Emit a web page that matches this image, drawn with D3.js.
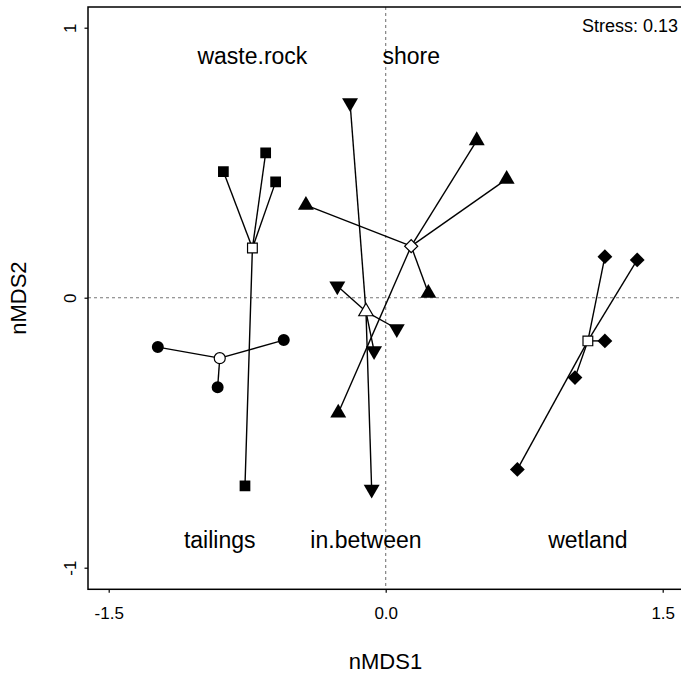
<!DOCTYPE html>
<html><head><meta charset="utf-8">
<script src="https://cdn.jsdelivr.net/npm/d3@7"></script>
<style>body{margin:0;background:#fff}svg{display:block}</style>
</head><body>
<script>
// ---- data ----
const groups = ["waste.rock", "tailings", "shore", "in.between", "wetland"];
const siteGroup = [
  "waste.rock","waste.rock","waste.rock","waste.rock",
  "tailings","tailings","tailings",
  "shore","shore","shore","shore","shore",
  "in.between","in.between","in.between","in.between","in.between",
  "wetland","wetland","wetland","wetland","wetland"
];
const nmds1 = [
  -0.879, -0.650, -0.596, -0.762,
  -1.234, -0.552, -0.910,
   0.493,  0.655,  0.231, -0.432, -0.257,
  -0.193, -0.262,  0.060, -0.063, -0.076,
   1.187,  1.362,  1.187,  1.025,  0.713
];
const nmds2 = [
   0.467,  0.536,  0.429, -0.697,
  -0.183, -0.157, -0.332,
   0.582,  0.439,  0.017,  0.343, -0.427,
   0.722,  0.043, -0.115, -0.197, -0.710,
   0.152,  0.140, -0.160, -0.296, -0.636
];
const topGroups = ["waste.rock", "shore"];
const xTicks = [-1.5, 0, 1.5];
const xTickLabels = ["-1.5", "0.0", "1.5"];
const yTicks = [-1, 0, 1];
const yTickLabels = ["-1", "0", "1"];
const stressLabel = "Stress: 0.13";

// ---- layout ----
const W = 681, H = 673;
const FONT = "'Liberation Sans', Arial, Helvetica, sans-serif";
const box = {left: 88, top: 7, right: 684, bottom: 589.3};
const x = d3.scaleLinear().domain([-1.5, 1.5]).range([108.7, 662.7]);
const y = d3.scaleLinear().domain([-1, 1]).range([567.7, 27.7]);

const svg = d3.select("body").append("svg").attr("width", W).attr("height", H);

// reference lines
const clip = svg.append("clipPath").attr("id", "c").append("rect")
  .attr("x", box.left).attr("y", box.top)
  .attr("width", box.right - box.left).attr("height", box.bottom - box.top);
const plot = svg.append("g").attr("clip-path", "url(#c)");
plot.append("line").attr("x1", x(0)).attr("x2", x(0)).attr("y1", box.top).attr("y2", box.bottom)
  .attr("stroke", "#777").attr("stroke-width", 1.1).attr("stroke-dasharray", "3,3");
plot.append("line").attr("y1", y(0)).attr("y2", y(0)).attr("x1", box.left).attr("x2", box.right)
  .attr("stroke", "#777").attr("stroke-width", 1.1).attr("stroke-dasharray", "3,3");

// sites
const sites = siteGroup.map((g, i) => ({g, x: nmds1[i], y: nmds2[i]}));
const cent = groups.map(g => {
  const s = sites.filter(d => d.g === g);
  return {g, x: d3.mean(s, d => d.x), y: d3.mean(s, d => d.y)};
});
const centOf = g => cent.find(c => c.g === g);

// spider segments
plot.append("g").selectAll("line").data(sites).join("line")
  .attr("x1", d => x(centOf(d.g).x)).attr("y1", d => y(centOf(d.g).y))
  .attr("x2", d => x(d.x)).attr("y2", d => y(d.y))
  .attr("stroke", "#000").attr("stroke-width", 1.4);

// symbols
const ptSym = {
  "waste.rock": {t: d3.symbolSquare, s: 115, r: 0},
  "tailings":   {t: d3.symbolCircle, s: 113, r: 0},
  "shore":      {t: d3.symbolTriangle, s: 110, r: 0},
  "in.between": {t: d3.symbolTriangle, s: 110, r: 180},
  "wetland":    {t: d3.symbolSquare, s: 110, r: 45}
};
const cSym = {
  "waste.rock": {t: d3.symbolSquare, s: 95, r: 0},
  "tailings":   {t: d3.symbolCircle, s: 95, r: 0},
  "shore":      {t: d3.symbolSquare, s: 85, r: 45},
  "in.between": {t: d3.symbolTriangle, s: 90, r: 0},
  "wetland":    {t: d3.symbolSquare, s: 95, r: 0}
};

plot.append("g").selectAll("path").data(sites).join("path")
  .attr("d", d => d3.symbol(ptSym[d.g].t, ptSym[d.g].s)())
  .attr("transform", d => `translate(${x(d.x)},${y(d.y)}) rotate(${ptSym[d.g].r})`)
  .attr("fill", "#000");

plot.append("g").selectAll("path").data(cent).join("path")
  .attr("d", d => d3.symbol(cSym[d.g].t, cSym[d.g].s)())
  .attr("transform", d => `translate(${x(d.x)},${y(d.y)}) rotate(${cSym[d.g].r})`)
  .attr("fill", "#fff").attr("stroke", "#000").attr("stroke-width", 1.2);

// group labels
svg.append("g").selectAll("text").data(cent).join("text")
  .attr("x", d => x(d.x))
  .attr("y", d => topGroups.includes(d.g) ? 64 : 548)
  .attr("text-anchor", "middle")
  .attr("font-family", FONT).attr("font-size", 23)
  .text(d => d.g);

// box
svg.append("rect").attr("x", box.left).attr("y", box.top)
  .attr("width", box.right - box.left).attr("height", box.bottom - box.top)
  .attr("fill", "none").attr("stroke", "#000").attr("stroke-width", 1.5);

// axes
const xAxis = svg.append("g").attr("transform", `translate(0,${box.bottom})`)
  .call(d3.axisBottom(x).tickValues(xTicks).tickFormat((d, i) => xTickLabels[i]).tickSize(3.5).tickPadding(12));
xAxis.select(".domain").remove();
xAxis.selectAll("line").attr("stroke-width", 1.2);
xAxis.selectAll("text").attr("font-family", FONT).attr("font-size", 17).attr("fill", "#000")
  .attr("dy", null).attr("y", 29.5);

const yAxis = svg.append("g").attr("transform", `translate(${box.left},0)`)
  .call(d3.axisLeft(y).tickValues(yTicks).tickFormat((d, i) => yTickLabels[i]).tickSize(3.5));
yAxis.select(".domain").remove();
yAxis.selectAll("line").attr("stroke-width", 1.2);
yAxis.selectAll("text").attr("font-family", FONT).attr("font-size", 17).attr("fill", "#000")
  .attr("x", null).attr("dy", null).attr("text-anchor", "middle")
  .attr("transform", "translate(-12,0) rotate(-90)");

// axis titles
svg.append("text").attr("x", (box.left + 683) / 2).attr("y", 669)
  .attr("text-anchor", "middle").attr("font-family", FONT).attr("font-size", 22).text("nMDS1");
svg.append("text").attr("transform", `translate(26,${(box.top + box.bottom) / 2}) rotate(-90)`)
  .attr("text-anchor", "middle").attr("font-family", FONT).attr("font-size", 22).text("nMDS2");

// stress
svg.append("text").attr("x", 678).attr("y", 32).attr("text-anchor", "end")
  .attr("font-family", FONT).attr("font-size", 18).text(stressLabel);
</script>
</body></html>
